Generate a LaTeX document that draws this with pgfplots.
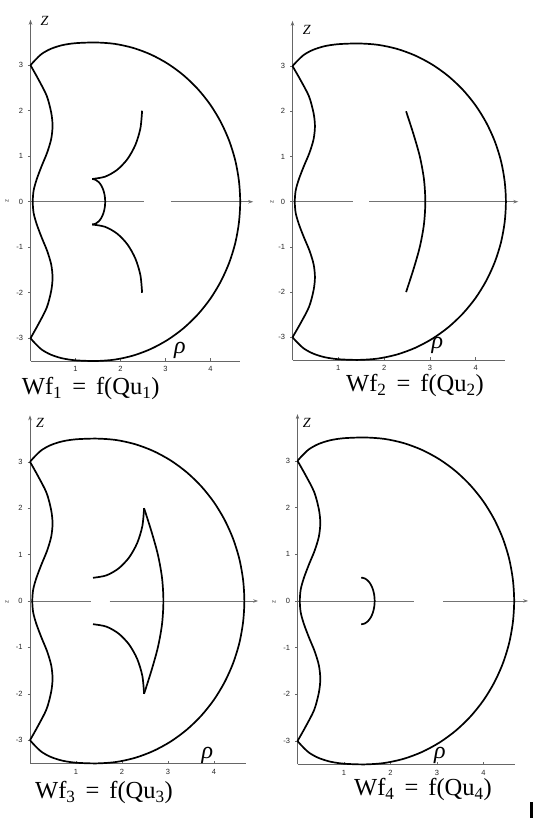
\documentclass[border=0pt]{standalone}
\usepackage{fontspec}
\setmainfont{Liberation Serif}
\newfontfamily\arial{Liberation Sans}
\usepackage{pgfplots}
\pgfplotsset{compat=1.18}
\usepackage{pgfplotstable}
\usetikzlibrary{arrows.meta}

\pgfplotstableread{
x z
0 -3
0.17 -2.70
0.36 -2.33
0.46 -1.96
0.49 -1.67
0.46 -1.38
0.37 -1.08
0.25 -0.79
0.14 -0.50
0.07 -0.25
0.05 0
0.07 0.25
0.14 0.50
0.25 0.79
0.37 1.08
0.46 1.38
0.49 1.67
0.46 1.96
0.36 2.33
0.17 2.70
0 3
}\tabLeft

\pgfplotstableread{
x z
0 3
0.10 3.11
0.25 3.25
0.45 3.36
0.70 3.44
1.00 3.485
1.45 3.50
1.869 3.470
2.281 3.381
2.678 3.234
3.055 3.031
3.404 2.777
3.720 2.475
3.997 2.131
4.230 1.750
4.416 1.339
4.551 0.906
4.632 0.457
4.66 0
4.632 -0.457
4.551 -0.906
4.416 -1.339
4.230 -1.750
3.997 -2.131
3.720 -2.475
3.404 -2.777
3.055 -3.031
2.678 -3.234
2.281 -3.381
1.869 -3.470
1.45 -3.50
1.00 -3.485
0.70 -3.44
0.45 -3.36
0.25 -3.25
0.10 -3.11
0 -3
}\tabArc

\pgfplotstableread{
x z
2.48 2.00
2.442 1.612
2.331 1.25
2.155 0.939
1.925 0.701
1.657 0.551
1.37 0.5
}\tabUp

\pgfplotstableread{
x z
2.48 -2.00
2.442 -1.612
2.331 -1.25
2.155 -0.939
1.925 -0.701
1.657 -0.551
1.37 -0.5
}\tabDown

\pgfplotstableread{
x z
1.37 0.5
1.445 0.483
1.515 0.433
1.575 0.354
1.621 0.25
1.650 0.129
1.66 0
1.650 -0.129
1.621 -0.25
1.575 -0.354
1.515 -0.433
1.445 -0.483
1.37 -0.5
}\tabSmallArc

\pgfplotstableread{
x z
2.48 2.0
2.64 1.5
2.78 1.0
2.87 0.5
2.90 0
2.87 -0.5
2.78 -1.0
2.64 -1.5
2.48 -2.0
}\tabBigArc

\pgfplotsset{
  panel/.style={
    scale only axis, clip=false,
    xmin=0, ymin=-3.5, ymax=4,
    axis x line*=bottom, axis y line=left,
    axis line style={draw=black!60, line width=0.7pt},
    y axis line style={-{Stealth[length=5pt,width=3.5pt]}},
    xtick={1,2,3,4}, ytick={-3,-2,-1,0,1,2,3},
    xtick align=inside, ytick align=outside,
    major tick length=2.5pt,
    tick style={draw=black!60, line width=0.6pt},
    /pgf/number format/assume math mode=true,
    tick label style={font=\arial\fontsize{7.5}{8}\selectfont, text=black!85},
    yticklabel style={xshift=-1.5pt},
    xticklabel style={yshift=-2pt},
  },
  curve/.style={black, line width=1.7pt, smooth, no markers},
}

\newcommand{\zline}[3]{%
  \draw[black!55, line width=0.8pt] (axis cs:0,0) -- (axis cs:#1,0);
  \draw[black!55, line width=0.8pt, -{Stealth[length=5pt,width=3.5pt]}] (axis cs:#2,0) -- (axis cs:#3,0);
}
\newcommand{\ttl}[1]{Wf\textsubscript{#1}\hspace{10pt}=\hspace{10pt}f(Qu\textsubscript{#1})}

\begin{document}
\begin{tikzpicture}[x=1pt,y=1pt]
\path[use as bounding box] (0,0) rectangle (533,824);

% Panel 1
\begin{axis}[panel, at={(30.5pt,463pt)}, anchor=south west,
  width=209.25pt, height=341.25pt, xmax=4.65]
\zline{2.52}{3.12}{4.95}
\addplot[curve] table {\tabLeft};
\addplot[curve] table {\tabArc};
\addplot[curve] table {\tabUp};
\addplot[curve] table {\tabSmallArc};
\addplot[curve] table {\tabDown};
\end{axis}

% Panel 2
\begin{axis}[panel, at={(292.5pt,464.1pt)}, anchor=south west,
  width=212.5pt, height=339pt, xmax=4.64]
\zline{1.33}{1.68}{4.93}
\addplot[curve] table {\tabLeft};
\addplot[curve] table {\tabArc};
\addplot[curve] table {\tabBigArc};
\end{axis}

% Panel 3
\begin{axis}[panel, at={(30pt,60.6pt)}, anchor=south west,
  width=216.2pt, height=348pt, xmax=4.7]
\zline{1.32}{1.73}{4.96}
\addplot[curve] table {\tabLeft};
\addplot[curve] table {\tabArc};
\addplot[curve] table {\tabUp};
\addplot[curve] table {\tabBigArc};
\addplot[curve] table {\tabDown};
\end{axis}

% Panel 4
\begin{axis}[panel, at={(297.5pt,59.6pt)}, anchor=south west,
  width=217.6pt, height=350.25pt, xmax=4.68]
\zline{2.5}{3.13}{4.96}
\addplot[curve] table {\tabLeft};
\addplot[curve] table {\tabArc};
\addplot[curve] table {\tabSmallArc};
\end{axis}

% titles
\begin{scope}[every node/.style={anchor=base west, inner sep=0pt, font=\fontsize{24.5}{25}\selectfont}]
\node at (21.7,429) {\ttl{1}};
\node at (346,432.5) {\ttl{2}};
\node at (35,25.7) {\ttl{3}};
\node at (354,28.3) {\ttl{4}};
\end{scope}

% Z labels
\begin{scope}[every node/.style={inner sep=0pt, font=\itshape\fontsize{14}{14}\selectfont}]
\node at (44.5,803) {Z};
\node at (306.7,794) {Z};
\node at (40,401) {Z};
\node at (306.7,401) {Z};
\end{scope}

% rho labels
\begin{scope}[every node/.style={inner sep=0pt, font=\itshape\fontsize{24}{24}\selectfont}]
\node at (180,474) {ρ};
\node at (437.5,479) {ρ};
\node at (207.5,69) {ρ};
\node at (440,69) {ρ};
\end{scope}

% small rotated z
\begin{scope}[every node/.style={inner sep=0pt, rotate=90, font=\arial\fontsize{6}{6}\selectfont, text=black!80}]
\node at (7,623) {z};
\node at (272,622) {z};
\node at (7,222.3) {z};
\node at (274,222) {z};
\end{scope}

\fill[black] (530,6) rectangle (533,22);
\end{tikzpicture}
\end{document}
